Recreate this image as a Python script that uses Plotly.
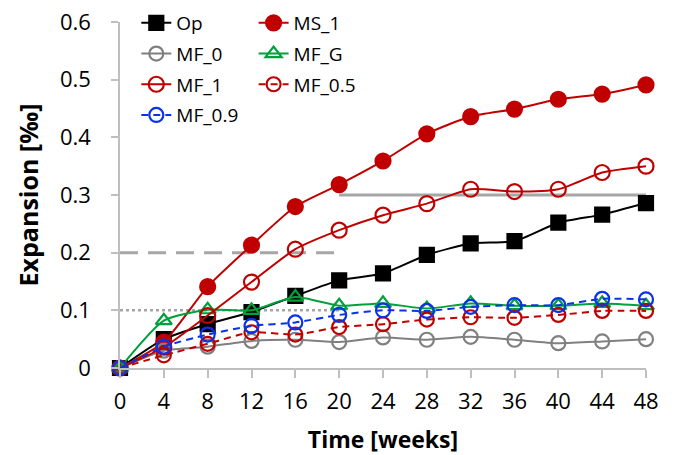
import plotly.graph_objects as go

weeks = [0, 4, 8, 12, 16, 20, 24, 28, 32, 36, 40, 44, 48]
op = [0, 0.050, 0.076, 0.097, 0.125, 0.152, 0.164, 0.196, 0.216, 0.220, 0.252, 0.266, 0.286]
ms_1 = [0, 0.045, 0.141, 0.213, 0.280, 0.318, 0.359, 0.406, 0.436, 0.449, 0.466, 0.475, 0.491]
mf_0 = [0, 0.030, 0.037, 0.047, 0.049, 0.045, 0.053, 0.049, 0.054, 0.049, 0.043, 0.046, 0.050]
mf_g = [0, 0.082, 0.101, 0.100, 0.123, 0.108, 0.112, 0.103, 0.112, 0.108, 0.108, 0.112, 0.108]
mf_1 = [0, 0.036, 0.091, 0.149, 0.206, 0.239, 0.265, 0.285, 0.310, 0.306, 0.310, 0.339, 0.350]
mf_05 = [0, 0.022, 0.042, 0.062, 0.058, 0.071, 0.076, 0.084, 0.088, 0.087, 0.092, 0.099, 0.099]
mf_09 = [0, 0.037, 0.058, 0.073, 0.079, 0.092, 0.100, 0.099, 0.106, 0.109, 0.109, 0.120, 0.119]

limit_low_x = [0, 20]
limit_low_y = [0.1, 0.1]
limit_mid_x = [0, 20]
limit_mid_y = [0.2, 0.2]
limit_high_x = [20, 48]
limit_high_y = [0.3, 0.3]

x_ticks = [0, 4, 8, 12, 16, 20, 24, 28, 32, 36, 40, 44, 48]
y_ticks = [0, 0.1, 0.2, 0.3, 0.4, 0.5, 0.6]
y_ticktext = ["0", "0.1", "0.2", "0.3", "0.4", "0.5", "0.6"]

FONT = "Open Sans"
RED = "#C00000"
GRAY = "#808080"
GREEN = "#00A03C"
BLUE = "#0A32E6"
REF = "#A6A6A6"

fig = go.Figure()

# reference lines (behind)
fig.add_trace(go.Scatter(x=limit_low_x, y=limit_low_y, mode="lines", showlegend=False,
                         line=dict(color=REF, width=2.5, dash="dot"), hoverinfo="skip"))
fig.add_trace(go.Scatter(x=limit_mid_x, y=limit_mid_y, mode="lines", showlegend=False,
                         line=dict(color=REF, width=3, dash="18px,10px"), hoverinfo="skip"))
fig.add_trace(go.Scatter(x=limit_high_x, y=limit_high_y, mode="lines", showlegend=False,
                         line=dict(color=REF, width=3), hoverinfo="skip"))

def add(name, y, color, symbol, dash, legend, size):
    fig.add_trace(go.Scatter(
        x=weeks, y=y, name=name, mode="lines+markers", legend=legend, legendgroup=name,
        line=dict(color=color, width=2, dash=dash, shape="spline", smoothing=0.6),
        marker=dict(symbol=symbol, size=size, color=color,
                    line=dict(color=color, width=2.2)),
        cliponaxis=False,
    ))

add("Op", op, "black", "square", "solid", "legend", 14)
add("MS_1", ms_1, RED, "circle", "solid", "legend2", 15)
add("MF_0", mf_0, GRAY, "circle-open", "solid", "legend", 14)
add("MF_G", mf_g, GREEN, "triangle-up-open", "solid", "legend2", 14)
add("MF_1", mf_1, RED, "circle-open", "solid", "legend", 15)
add("MF_0.5", mf_05, RED, "circle-open", "7px,5px", "legend2", 14)
add("MF_0.9", mf_09, BLUE, "circle-open", "7px,5px", "legend", 14)

legend_common = dict(font=dict(family=FONT, size=19, color="black"), bgcolor="rgba(0,0,0,0)",
                     tracegroupgap=3, yanchor="top", xanchor="left", itemwidth=30)

fig.update_layout(
    width=674, height=455,
    margin=dict(l=120, r=28, t=22, b=86.5, autoexpand=False),
    plot_bgcolor="white", paper_bgcolor="white",
    font=dict(family=FONT, size=19, color="black"),
    legend=dict(x=0.031, y=1.052, **legend_common),
    legend2=dict(x=0.254, y=1.052, **legend_common),
    xaxis=dict(range=[0, 48], tickvals=x_ticks, showline=True, linecolor="#BFBFBF", linewidth=1.5,
               ticks="outside", ticklen=8, tickcolor="#BFBFBF", tickwidth=1.5,
               showgrid=False, zeroline=False, ticklabelstandoff=5, automargin=False,
               tickfont=dict(family=FONT, size=22),
               title=dict(text="<b>Time [weeks]</b>", font=dict(family=FONT, size=23), standoff=21)),
    yaxis=dict(range=[0, 0.6], tickvals=y_ticks, ticktext=y_ticktext, showline=True,
               linecolor="#BFBFBF", linewidth=1.5, ticks="outside", ticklen=7,
               tickcolor="#BFBFBF", tickwidth=1.5, showgrid=False, zeroline=False,
               ticklabelstandoff=16, automargin=False, tickfont=dict(family=FONT, size=22),
               title=dict(text="<b>Expansion [‰]</b>", font=dict(family=FONT, size=25), standoff=14)),
)

fig.write_html("out.html")
